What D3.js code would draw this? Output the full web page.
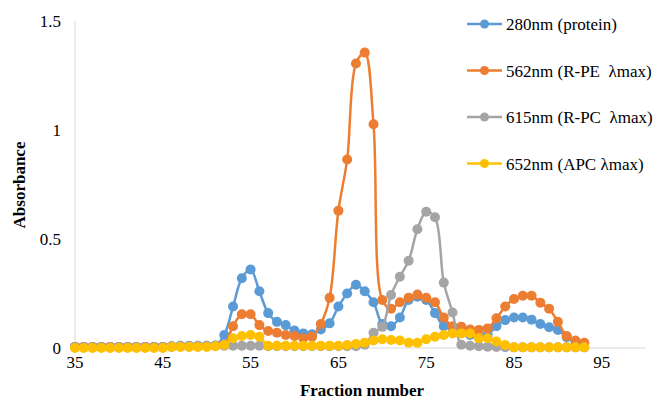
<!DOCTYPE html>
<html>
<head>
<meta charset="utf-8">
<script src="https://cdn.jsdelivr.net/npm/d3@7/dist/d3.min.js"></script>
<style>
  body { margin: 0; background: #fff; }
  text { font-family: "Liberation Serif", "DejaVu Serif", serif; }
</style>
</head>
<body>
<div id="chart"></div>
<script>
// fraction numbers on the x axis
const fractions = [35, 36, 37, 38, 39, 40, 41, 42, 43, 44, 45, 46, 47, 48, 49, 50, 51, 52, 53, 54,
  55, 56, 57, 58, 59, 60, 61, 62, 63, 64, 65, 66, 67, 68, 69, 70, 71, 72, 73, 74,
  75, 76, 77, 78, 79, 80, 81, 82, 83, 84, 85, 86, 87, 88, 89, 90, 91, 92, 93];

const abs280 = [0.005, 0.005, 0.005, 0.005, 0.005, 0.005, 0.005, 0.005, 0.005, 0.005, 0.005, 0.008, 0.01, 0.01, 0.01, 0.01, 0.012, 0.06, 0.19, 0.32,
  0.36, 0.26, 0.16, 0.12, 0.105, 0.08, 0.067, 0.063, 0.085, 0.113, 0.19, 0.25, 0.29, 0.26, 0.21, 0.11, 0.1, 0.14, 0.22, 0.235,
  0.22, 0.16, 0.1, 0.09, 0.07, 0.06, 0.05, 0.06, 0.1, 0.128, 0.14, 0.14, 0.13, 0.11, 0.095, 0.083, 0.05, 0.03, 0.02];

const abs562 = [0.005, 0.005, 0.005, 0.005, 0.005, 0.005, 0.005, 0.005, 0.005, 0.005, 0.005, 0.006, 0.007, 0.007, 0.007, 0.008, 0.01, 0.015, 0.1, 0.155,
  0.155, 0.105, 0.078, 0.07, 0.06, 0.055, 0.045, 0.052, 0.11, 0.23, 0.63, 0.865, 1.305, 1.355, 1.026, 0.22, 0.18, 0.21, 0.23, 0.245,
  0.23, 0.21, 0.14, 0.1, 0.098, 0.085, 0.083, 0.09, 0.136, 0.19, 0.225, 0.24, 0.24, 0.208, 0.18, 0.12, 0.055, 0.034, 0.024];

const abs615 = [0.004, 0.004, 0.004, 0.004, 0.004, 0.004, 0.004, 0.004, 0.004, 0.004, 0.004, 0.008, 0.009, 0.009, 0.009, 0.009, 0.01, 0.01, 0.01, 0.01,
  0.01, 0.01, 0.008, 0.008, 0.008, 0.008, 0.008, 0.008, 0.008, 0.008, 0.008, 0.008, 0.008, 0.015, 0.07, 0.097, 0.243, 0.327, 0.4, 0.545,
  0.625, 0.6, 0.3, 0.163, 0.015, 0.01, 0.008, 0.006, 0.005, 0.004, 0.003, 0.003, 0.003, 0.003, 0.003, 0.003, 0.003, 0.003, 0.003];

const abs652 = [0, 0, 0, 0, 0, 0, 0, 0, 0, 0, 0, 0.005, 0.005, 0.005, 0.005, 0.005, 0.008, 0.014, 0.045, 0.055,
  0.06, 0.052, 0.01, 0.01, 0.01, 0.01, 0.01, 0.01, 0.01, 0.01, 0.01, 0.014, 0.018, 0.024, 0.034, 0.04, 0.037, 0.034, 0.024, 0.024,
  0.04, 0.052, 0.06, 0.067, 0.067, 0.067, 0.045, 0.045, 0.03, 0.014, 0.003, 0.003, 0.003, 0.003, 0.003, 0.003, 0.003, 0.003, 0.003];

const seriesNames = ["280nm (protein)", "562nm (R-PE  \u03bbmax)", "615nm (R-PC  \u03bbmax)", "652nm (APC \u03bbmax)"];
const seriesColors = ["#5B9BD5", "#ED7D31", "#A5A5A5", "#FFC000"];
const xTicks = [35, 45, 55, 65, 75, 85, 95];
const yTicks = [0, 0.5, 1, 1.5];

const width = 662;
const height = 401;
const margin = { top: 21, right: 14, bottom: 53, left: 75 };

const svg = d3.select("#chart")
  .append("svg")
  .attr("width", width)
  .attr("height", height);

const x = d3.scaleLinear()
  .domain([35, 100])
  .range([margin.left, margin.left + 65 * 8.78]);

const y = d3.scaleLinear()
  .domain([0, 1.5])
  .range([height - margin.bottom, margin.top]);

// axis lines
svg.append("line")
  .attr("x1", x(35)).attr("x2", x(35))
  .attr("y1", y(1.5)).attr("y2", y(0))
  .attr("stroke", "#d9d9d9").attr("stroke-width", 1);

svg.append("line")
  .attr("x1", x(35)).attr("x2", x(100))
  .attr("y1", y(0)).attr("y2", y(0))
  .attr("stroke", "#d9d9d9").attr("stroke-width", 1);

// tick labels
svg.append("g")
  .selectAll("text")
  .data(yTicks)
  .enter().append("text")
  .attr("x", 61)
  .attr("y", d => y(d) + 6)
  .attr("text-anchor", "end")
  .attr("font-size", 17)
  .text(d => d);

svg.append("g")
  .selectAll("text")
  .data(xTicks)
  .enter().append("text")
  .attr("x", d => x(d))
  .attr("y", 368)
  .attr("text-anchor", "middle")
  .attr("font-size", 17)
  .text(d => d);

// axis titles
svg.append("text")
  .attr("x", 362)
  .attr("y", 396)
  .attr("text-anchor", "middle")
  .attr("font-size", 17)
  .attr("font-weight", "bold")
  .text("Fraction number");

svg.append("text")
  .attr("transform", `translate(25,${185}) rotate(-90)`)
  .attr("text-anchor", "middle")
  .attr("font-size", 17)
  .attr("font-weight", "bold")
  .text("Absorbance");

const allSeries = [abs280, abs562, abs615, abs652].map((vals, i) => ({
  name: seriesNames[i],
  color: seriesColors[i],
  points: fractions.map((f, j) => ({ f: f, v: vals[j] }))
}));

const line = d3.line()
  .x(d => x(d.f))
  .y(d => y(d.v))
  .curve(d3.curveCatmullRom.alpha(0.5));

const groups = svg.selectAll(".series")
  .data(allSeries)
  .enter().append("g")
  .attr("class", "series");

groups.append("path")
  .attr("d", d => line(d.points))
  .attr("fill", "none")
  .attr("stroke", d => d.color)
  .attr("stroke-width", 2.5)
  .attr("stroke-linejoin", "round");

groups.each(function (s) {
  d3.select(this).selectAll("circle")
    .data(s.points)
    .enter().append("circle")
    .attr("cx", d => x(d.f))
    .attr("cy", d => y(d.v))
    .attr("r", 5)
    .attr("fill", s.color);
});

// legend
const legend = svg.append("g")
  .selectAll("g")
  .data(allSeries)
  .enter().append("g")
  .attr("transform", (d, i) => `translate(467,${24 + i * 46.5})`);

legend.append("line")
  .attr("x1", 0).attr("x2", 35)
  .attr("y1", 0).attr("y2", 0)
  .attr("stroke", d => d.color)
  .attr("stroke-width", 2.5);

legend.append("circle")
  .attr("cx", 17.5).attr("cy", 0)
  .attr("r", 4.5)
  .attr("fill", d => d.color);

legend.append("text")
  .attr("x", 39)
  .attr("y", 6)
  .attr("font-size", 17)
  .style("white-space", "pre")
  .text(d => d.name);
</script>
</body>
</html>
